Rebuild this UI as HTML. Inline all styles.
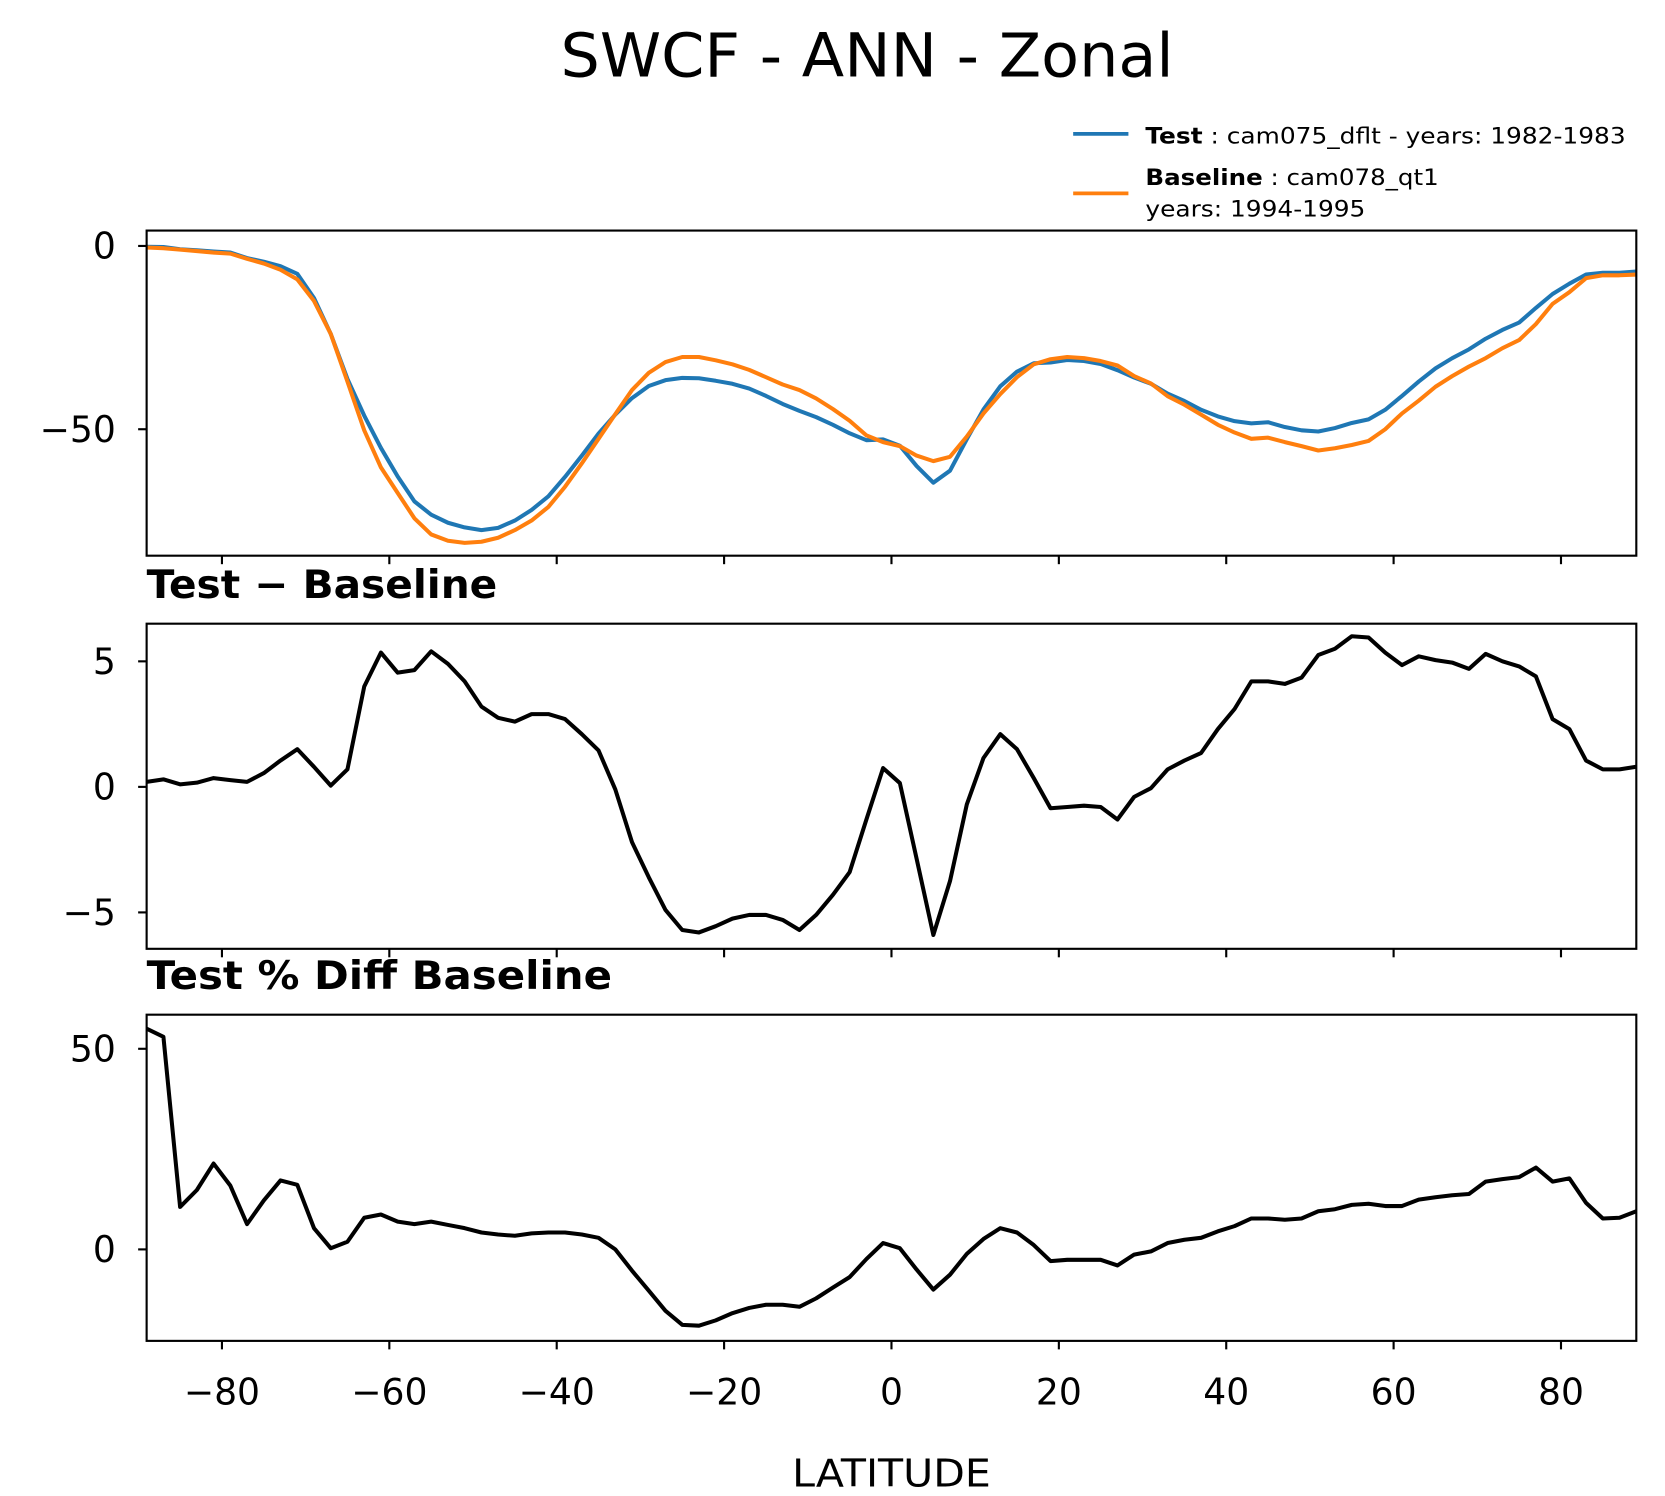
<!DOCTYPE html>
<html><head><meta charset="utf-8"><style>
html,body{margin:0;padding:0;background:#fff}
svg{display:block;font-family:"DejaVu Sans","Liberation Sans",sans-serif}
</style></head><body>
<svg id="chart" xmlns="http://www.w3.org/2000/svg" width="1665" height="1496" viewBox="0 0 1567 1408" preserveAspectRatio="none">
<rect width="1567" height="1408" fill="#fff"/>
<text x="816" y="72" font-size="57" text-anchor="middle" textLength="577" lengthAdjust="spacingAndGlyphs">SWCF - ANN - Zonal</text>
<g>
<line x1="1010" y1="126" x2="1062" y2="126" stroke="#1f77b4" stroke-width="3.5"/>
<text x="1078" y="135" font-size="21" textLength="452" lengthAdjust="spacingAndGlyphs"><tspan font-weight="bold">Test</tspan> : cam075_dflt - years: 1982-1983</text>
<line x1="1010" y1="182" x2="1062" y2="182" stroke="#ff7f0e" stroke-width="3.5"/>
<text x="1078" y="174" font-size="21" textLength="276" lengthAdjust="spacingAndGlyphs"><tspan font-weight="bold">Baseline</tspan> : cam078_qt1</text>
<text x="1078" y="204" font-size="21" textLength="207" lengthAdjust="spacingAndGlyphs">years: 1994-1995</text>
</g>
<text x="138" y="563" font-size="37" font-weight="bold" textLength="330" lengthAdjust="spacingAndGlyphs">Test − Baseline</text>
<text x="138" y="931" font-size="37" font-weight="bold" textLength="438" lengthAdjust="spacingAndGlyphs">Test % Diff Baseline</text>
<text x="839" y="1399" font-size="36" text-anchor="middle" textLength="187" lengthAdjust="spacingAndGlyphs">LATITUDE</text>
<g id="plots"></g>
</svg>
<script>
const lats = [];
for (let v = -89; v <= 89; v += 2) lats.push(v);
const testVals = [-0.2,-0.3,-0.9,-1.2,-1.5,-1.8,-3.3,-4.3,-5.5,-7.6,-14.2,-24,-36.3,-46.3,-55.1,-62.9,-69.7,-73.3,-75.5,-76.8,-77.5,-76.9,-74.9,-72,-68.3,-63,-57.2,-51.2,-46,-41.5,-38.2,-36.6,-36,-36.1,-36.8,-37.6,-38.9,-40.9,-43.1,-45,-46.7,-48.8,-51.1,-53,-52.8,-54.5,-60,-64.6,-61.3,-52.7,-44.6,-38.3,-34.3,-32,-31.8,-31.1,-31.4,-32.2,-33.9,-35.9,-37.6,-40.3,-42.3,-44.7,-46.5,-47.8,-48.4,-48.1,-49.4,-50.3,-50.6,-49.7,-48.3,-47.3,-44.7,-40.9,-37,-33.4,-30.6,-28.2,-25.3,-22.9,-20.9,-16.9,-13.1,-10.3,-7.8,-7.3,-7.3,-7];
const baseVals = [-0.4,-0.6,-1,-1.4,-1.8,-2.1,-3.5,-4.8,-6.5,-9.1,-15,-24,-37,-50.3,-60.4,-67.4,-74.3,-78.7,-80.4,-81,-80.7,-79.6,-77.5,-74.9,-71.2,-65.7,-59.3,-52.6,-45.9,-39.3,-34.6,-31.7,-30.3,-30.3,-31.2,-32.3,-33.8,-35.8,-37.8,-39.3,-41.6,-44.5,-47.7,-51.7,-53.5,-54.6,-57.2,-58.7,-57.5,-52,-45.7,-40.4,-35.8,-32.3,-30.9,-30.3,-30.6,-31.4,-32.6,-35.5,-37.5,-41,-43.3,-46,-48.8,-50.9,-52.6,-52.3,-53.5,-54.6,-55.8,-55.2,-54.3,-53.2,-50,-45.7,-42.2,-38.4,-35.5,-32.9,-30.6,-27.9,-25.7,-21.3,-15.8,-12.6,-8.8,-8,-8,-7.8];
const diffVals = [0.2,0.3,0.1,0.17,0.35,0.27,0.2,0.55,1.05,1.5,0.8,0.05,0.7,4.0,5.35,4.55,4.65,5.4,4.9,4.2,3.2,2.75,2.6,2.9,2.9,2.7,2.1,1.45,-0.1,-2.2,-3.6,-4.9,-5.7,-5.8,-5.55,-5.25,-5.1,-5.1,-5.3,-5.7,-5.1,-4.3,-3.4,-1.3,0.75,0.15,-2.85,-5.9,-3.75,-0.7,1.15,2.1,1.5,0.35,-0.85,-0.8,-0.75,-0.8,-1.3,-0.4,-0.05,0.7,1.05,1.35,2.3,3.1,4.2,4.2,4.1,4.35,5.25,5.5,6.0,5.95,5.35,4.85,5.2,5.05,4.95,4.7,5.3,5.0,4.8,4.4,2.7,2.3,1.05,0.7,0.7,0.8];
const pctVals = [55,53,10.6,14.8,21.4,15.9,6.3,12.2,17.2,16.1,5.3,0.3,1.9,7.9,8.7,6.9,6.3,6.9,6.1,5.3,4.2,3.7,3.4,4.0,4.2,4.2,3.7,2.9,0,-5.3,-10.3,-15.3,-18.8,-19,-17.7,-15.9,-14.6,-13.8,-13.8,-14.3,-12.2,-9.5,-6.9,-2.4,1.6,0.3,-5,-10,-6.3,-1.1,2.6,5.3,4.2,1.1,-2.9,-2.6,-2.6,-2.6,-4,-1.3,-0.5,1.6,2.4,2.9,4.5,5.8,7.7,7.7,7.4,7.7,9.5,10,11.1,11.4,10.8,10.8,12.4,13,13.5,13.8,16.9,17.5,18,20.4,16.9,17.7,11.6,7.7,7.9,9.5];
const xTicks = [-80,-60,-40,-20,0,20,40,60,80];
const topTicks = [0,-50];
const diffTicks = [5,0,-5];
const pctTicks = [50,0];

const NS = "http://www.w3.org/2000/svg";
const root = document.getElementById('plots');
const X0 = 138, X1 = 1540, XMIN = -89, XMAX = 89;
function xs(v){ return X0 + (v - XMIN) / (XMAX - XMIN) * (X1 - X0); }
function mk(tag, attrs, parent){ const e = document.createElementNS(NS, tag); for (const k in attrs) e.setAttribute(k, attrs[k]); (parent||root).appendChild(e); return e; }

function panel(name, top, bot, ymax, ymin, yt, series, showXLabels){
  const g = mk('g', {});
  
  
  const ys = v => top + (ymax - v) / (ymax - ymin) * (bot - top);
  series.forEach(s => {
    const d = s.vals.map((v,i) => (i ? 'L' : 'M') + xs(lats[i]).toFixed(1) + ',' + ys(v).toFixed(1)).join(' ');
    const p = mk('path', {d: d, fill: 'none', stroke: s.color, 'stroke-width': 3.8, 'stroke-linejoin': 'round'}, g);
    
    
  });
  const fr = mk('rect', {x: X0, y: top, width: X1 - X0, height: bot - top, fill: 'none', stroke: '#000', 'stroke-width': 2}, g);
  
  
  yt.forEach(t => {
    const y = ys(t);
    mk('line', {x1: X0 - 8, x2: X0, y1: y, y2: y, stroke: '#000', 'stroke-width': 2}, g);
    const tx = mk('text', {x: X0 - 29, y: y + 12, 'font-size': 34, 'text-anchor': 'end'}, g);
    tx.textContent = t < 0 ? '\u2212' + Math.abs(t) : String(t);
    
    
  });
  xTicks.forEach(t => {
    const x = xs(t);
    mk('line', {x1: x, x2: x, y1: bot, y2: bot + 8, stroke: '#000', 'stroke-width': 2}, g);
    if (showXLabels) {
      const tx = mk('text', {x: x, y: bot + 60, 'font-size': 34, 'text-anchor': 'middle'}, g);
      tx.textContent = t < 0 ? '\u2212' + Math.abs(t) : String(t);
      
      
    }
  });
}
panel('zonal-mean-panel', 217, 523, 4.2, -84.5, topTicks,
  [{vals: testVals, color: '#1f77b4', name: 'test-line'}, {vals: baseVals, color: '#ff7f0e', name: 'baseline-line'}], false);
panel('difference-panel', 587, 893, 6.5, -6.45, diffTicks,
  [{vals: diffVals, color: '#000', name: 'difference-line'}], false);
panel('percent-diff-panel', 955, 1262, 58.5, -22.8, pctTicks,
  [{vals: pctVals, color: '#000', name: 'percent-diff-line'}], true);
</script>
</body></html>
